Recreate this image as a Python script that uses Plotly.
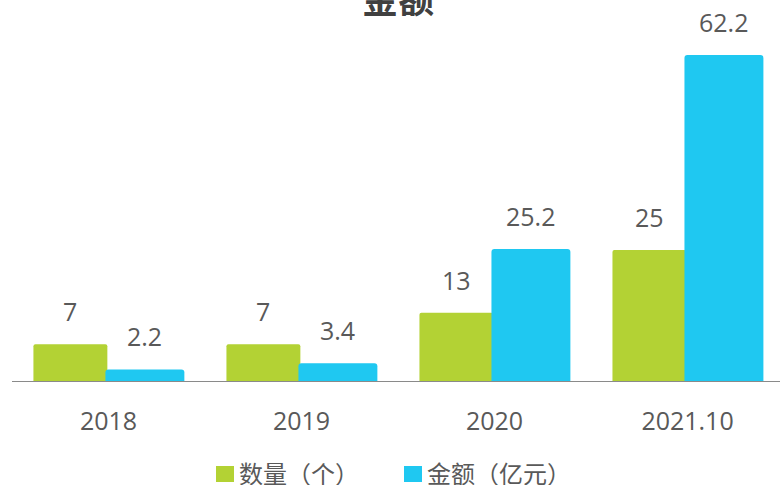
import plotly.graph_objects as go

# Chart data
categories = ["2018", "2019", "2020", "2021.10"]
count_values = [7, 7, 13, 25]           # 数量（个）
amount_values = [2.2, 3.4, 25.2, 62.2]  # 金额（亿元）
series_names = ["数量（个）", "金额（亿元）"]

GREEN = "#B3D234"
CYAN = "#1FC8F1"
LABEL_COLOR = "#595959"
FONT = "Open Sans, Noto Sans CJK SC, sans-serif"
CJK_FONT = "Noto Sans CJK SC, sans-serif"

# Plot-area geometry in pixels (used to place the legend keys)
PLOT_L, PLOT_W, PLOT_H = 12, 768, 381


def px_x(px):
    return (px - PLOT_L) / PLOT_W


def px_y(py):
    return (PLOT_H - py) / PLOT_H


# Bar placement within each category slot (fractions of a category)
green_offset, green_width = -0.389, 0.383
cyan_offset, cyan_width = -0.016, 0.409

fig = go.Figure()
fig.add_trace(go.Bar(
    x=categories, y=count_values, name=series_names[0],
    marker=dict(color=GREEN, line=dict(width=0), cornerradius=2),
    offset=green_offset, width=green_width, showlegend=False,
))
fig.add_trace(go.Bar(
    x=categories, y=amount_values, name=series_names[1],
    marker=dict(color=CYAN, line=dict(width=0), cornerradius=3),
    offset=cyan_offset, width=cyan_width, showlegend=False,
))

# Value labels above each bar
annotations = []
for values, off, w in ((count_values, green_offset, green_width),
                       (amount_values, cyan_offset, cyan_width)):
    for i, v in enumerate(values):
        annotations.append(dict(
            x=i + off + w / 2, y=v, xref="x", yref="y",
            text=f"{v:g}", showarrow=False, yanchor="middle", yshift=33,
            font=dict(family=FONT, size=25, color=LABEL_COLOR),
        ))

# Title, partially above the top edge
annotations.append(dict(
    x=px_x(398), y=1.008, xref="paper", yref="paper",
    text="<b>金额</b>", showarrow=False, xanchor="center", yanchor="middle",
    font=dict(family=CJK_FONT, size=36, color="#404040"),
))

# Legend: square keys with labels beside them
shapes = []
legend_items = [(series_names[0], GREEN, 216), (series_names[1], CYAN, 404)]
for name, color, key_left in legend_items:
    shapes.append(dict(
        type="rect", xref="paper", yref="paper",
        x0=px_x(key_left), x1=px_x(key_left + 18),
        y0=px_y(482), y1=px_y(466),
        fillcolor=color, line=dict(width=0), layer="above",
    ))
    annotations.append(dict(
        x=px_x(key_left + 21), y=px_y(472), xref="paper", yref="paper",
        text=name, showarrow=False, xanchor="left", yanchor="middle",
        height=26, valign="middle",
        font=dict(family=CJK_FONT, size=24, color=LABEL_COLOR),
    ))

fig.update_layout(
    width=780, height=490,
    margin=dict(l=PLOT_L, r=0, t=0, b=490 - PLOT_H),
    paper_bgcolor="white", plot_bgcolor="white",
    barmode="group",
    font=dict(family=FONT, color=LABEL_COLOR),
    annotations=annotations,
    shapes=shapes,
    showlegend=False,
    xaxis=dict(
        type="category", range=[-0.5, 3.479],
        showline=True, linecolor="#8A8A8A", linewidth=1,
        ticks="", showgrid=False, zeroline=False,
        tickfont=dict(family=FONT, size=25, color=LABEL_COLOR),
        ticklabelstandoff=18,
    ),
    yaxis=dict(
        range=[0, 72.7], visible=False, showgrid=False, zeroline=False,
    ),
)

fig.write_html("out.html")
